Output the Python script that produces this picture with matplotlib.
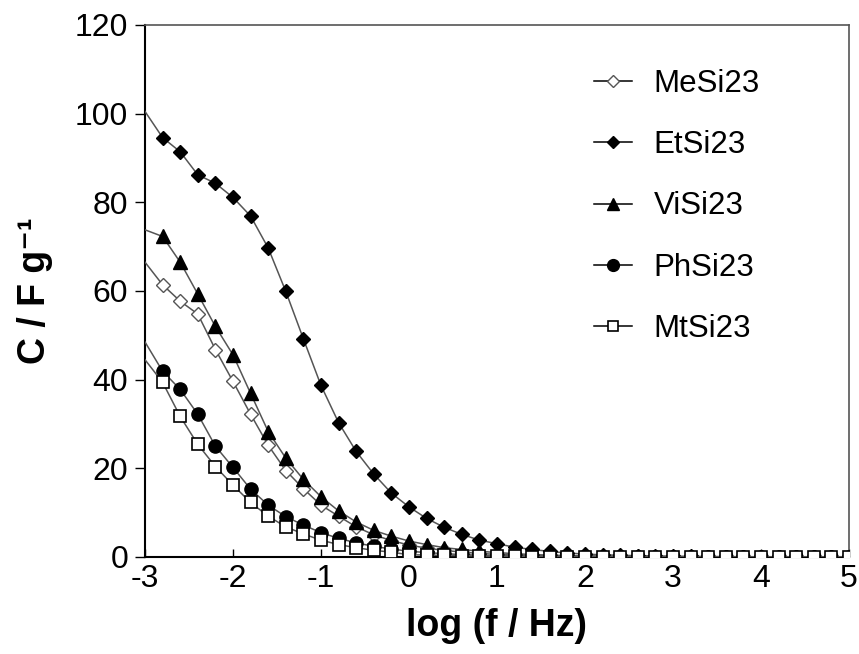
import matplotlib
matplotlib.use("Agg")
import matplotlib.pyplot as plt
from matplotlib.lines import Line2D

plt.rcParams['font.family'] = ['Liberation Sans', 'DejaVu Sans']

# log(f/Hz) of the measured points (markers)
log_f = [-2.8, -2.6, -2.4, -2.2, -2.0, -1.8, -1.6, -1.4, -1.2, -1.0,
         -0.8, -0.6, -0.4, -0.2, 0.0, 0.2, 0.4, 0.6, 0.8, 1.0,
         1.2, 1.4, 1.6, 1.8, 2.0, 2.2, 2.4, 2.6, 2.8, 3.0,
         3.2, 3.4, 3.6, 3.8, 4.0, 4.2, 4.4, 4.6, 4.8, 5.0]
# value of each curve where it enters the plot at the left edge
log_f_edge = -3.0
edge_values = {"MeSi23": 66.5, "EtSi23": 100.5, "ViSi23": 73.8,
               "PhSi23": 48.5, "MtSi23": 44.5}

MeSi23 = [61.4, 57.7, 54.8, 46.8, 39.6, 32.2, 25.2, 19.5, 15.4, 11.7,
          9.2, 6.8, 5.0, 3.7, 2.7, 2.0, 1.5, 1.1, 0.8, 0.6,
          0.45, 0.33, 0.25, 0.19, 0.15, 0.12, 0.10, 0.08, 0.07, 0.06,
          0.05, 0.04, 0.04, 0.03, 0.03, 0.02, 0.02, 0.02, 0.01, 0.01]
EtSi23 = [94.6, 91.4, 86.2, 84.3, 81.1, 76.9, 69.7, 59.9, 49.2, 38.7,
          30.3, 23.8, 18.7, 14.4, 11.3, 8.7, 6.7, 5.1, 3.8, 3.0,
          2.2, 1.7, 1.25, 0.9, 0.65, 0.5, 0.38, 0.3, 0.22, 0.17,
          0.13, 0.10, 0.08, 0.06, 0.05, 0.04, 0.03, 0.03, 0.02, 0.02]
ViSi23 = [72.3, 66.5, 59.3, 52.0, 45.6, 36.9, 28.3, 22.3, 17.5, 13.6,
          10.4, 7.9, 6.0, 4.7, 3.6, 2.8, 2.1, 1.7, 1.3, 1.0,
          0.75, 0.55, 0.42, 0.32, 0.25, 0.2, 0.16, 0.13, 0.10, 0.08,
          0.07, 0.06, 0.05, 0.04, 0.04, 0.03, 0.03, 0.02, 0.02, 0.02]
PhSi23 = [41.9, 37.8, 32.2, 25.0, 20.2, 15.3, 11.7, 9.1, 7.2, 5.5,
          4.2, 3.2, 2.4, 1.8, 1.3, 1.0, 0.75, 0.55, 0.42, 0.32,
          0.25, 0.2, 0.15, 0.12, 0.10, 0.08, 0.07, 0.06, 0.05, 0.04,
          0.04, 0.03, 0.03, 0.02, 0.02, 0.02, 0.01, 0.01, 0.01, 0.01]
MtSi23 = [39.4, 31.7, 25.4, 20.4, 16.2, 12.3, 9.2, 6.8, 5.2, 3.8,
          2.8, 2.1, 1.5, 1.1, 0.5, 0.45, 0.35, 0.3, 0.22, 0.17,
          0.13, 0.10, 0.08, 0.06, 0.05, 0.04, 0.03, 0.03, 0.02, 0.02,
          0.02, 0.01, 0.01, 0.01, 0.01, 0.01, 0.0, 0.0, 0.0, 0.0]

series_names = ["MeSi23", "EtSi23", "ViSi23", "PhSi23", "MtSi23"]
series_values = [MeSi23, EtSi23, ViSi23, PhSi23, MtSi23]

x_ticks = [-3, -2, -1, 0, 1, 2, 3, 4, 5]
y_ticks = [0, 20, 40, 60, 80, 100, 120]

styles = {
    "MeSi23": dict(marker="D", mfc="white", mec="#555555", ms=7.5, mew=1.0),
    "EtSi23": dict(marker="D", mfc="black", mec="black", ms=7.5, mew=1.0),
    "ViSi23": dict(marker="^", mfc="black", mec="black", ms=10, mew=1.0),
    "PhSi23": dict(marker="o", mfc="black", mec="black", ms=9.5, mew=1.0),
    "MtSi23": dict(marker="s", mfc="white", mec="black", ms=8, mew=1.2),
}
legend_ms = {"MeSi23": 6, "EtSi23": 6, "ViSi23": 8, "PhSi23": 8.5, "MtSi23": 7}

fig = plt.figure(figsize=(8.59, 6.54), dpi=100)
ax = fig.add_axes([145 / 859, 1 - 557 / 654, (849 - 145) / 859, (557 - 25) / 654])

line_color = "#555555"
handles = []
for name, vals in zip(series_names, series_values):
    xs = [log_f_edge] + log_f
    ys = [edge_values[name]] + vals
    st = styles[name]
    ax.plot(xs, ys, color=line_color, lw=1.1, linestyle="-",
            markevery=slice(1, None), clip_on=True, zorder=3, **st)
    hst = dict(st)
    hst["ms"] = legend_ms[name]
    handles.append(Line2D([0], [0], color="black", lw=1.1, label=name, **hst))

ax.set_xlim(-3, 5)
ax.set_ylim(0, 120)
ax.set_xticks(x_ticks)
ax.set_yticks(y_ticks)
ax.set_xticklabels([str(t) for t in x_ticks])
ax.set_yticklabels([str(t) for t in y_ticks])
ax.tick_params(axis="y", direction="out", length=7, width=1.0, labelsize=23, pad=5)
ax.tick_params(axis="x", direction="in", length=6, width=1.0, labelsize=23, pad=5)

for s in ["left", "bottom"]:
    ax.spines[s].set_color("black")
    ax.spines[s].set_linewidth(1.5)
for s in ["top", "right"]:
    ax.spines[s].set_color("#555555")
    ax.spines[s].set_linewidth(1.2)

ax.set_xlabel("log (f / Hz)", fontsize=27, fontweight="bold", labelpad=10)
ax.set_ylabel("C / F g\u207b\u00b9", fontsize=27, fontweight="bold", labelpad=16)

leg = ax.legend(handles=handles, loc="upper left",
                bbox_to_anchor=(594 / 859, 1 - 69 / 654),
                bbox_transform=fig.transFigure, frameon=False,
                fontsize=22.5, handlelength=1.2, handletextpad=0.7,
                labelspacing=1.0, borderpad=0, borderaxespad=0)

fig.savefig("out.png", dpi=100)
